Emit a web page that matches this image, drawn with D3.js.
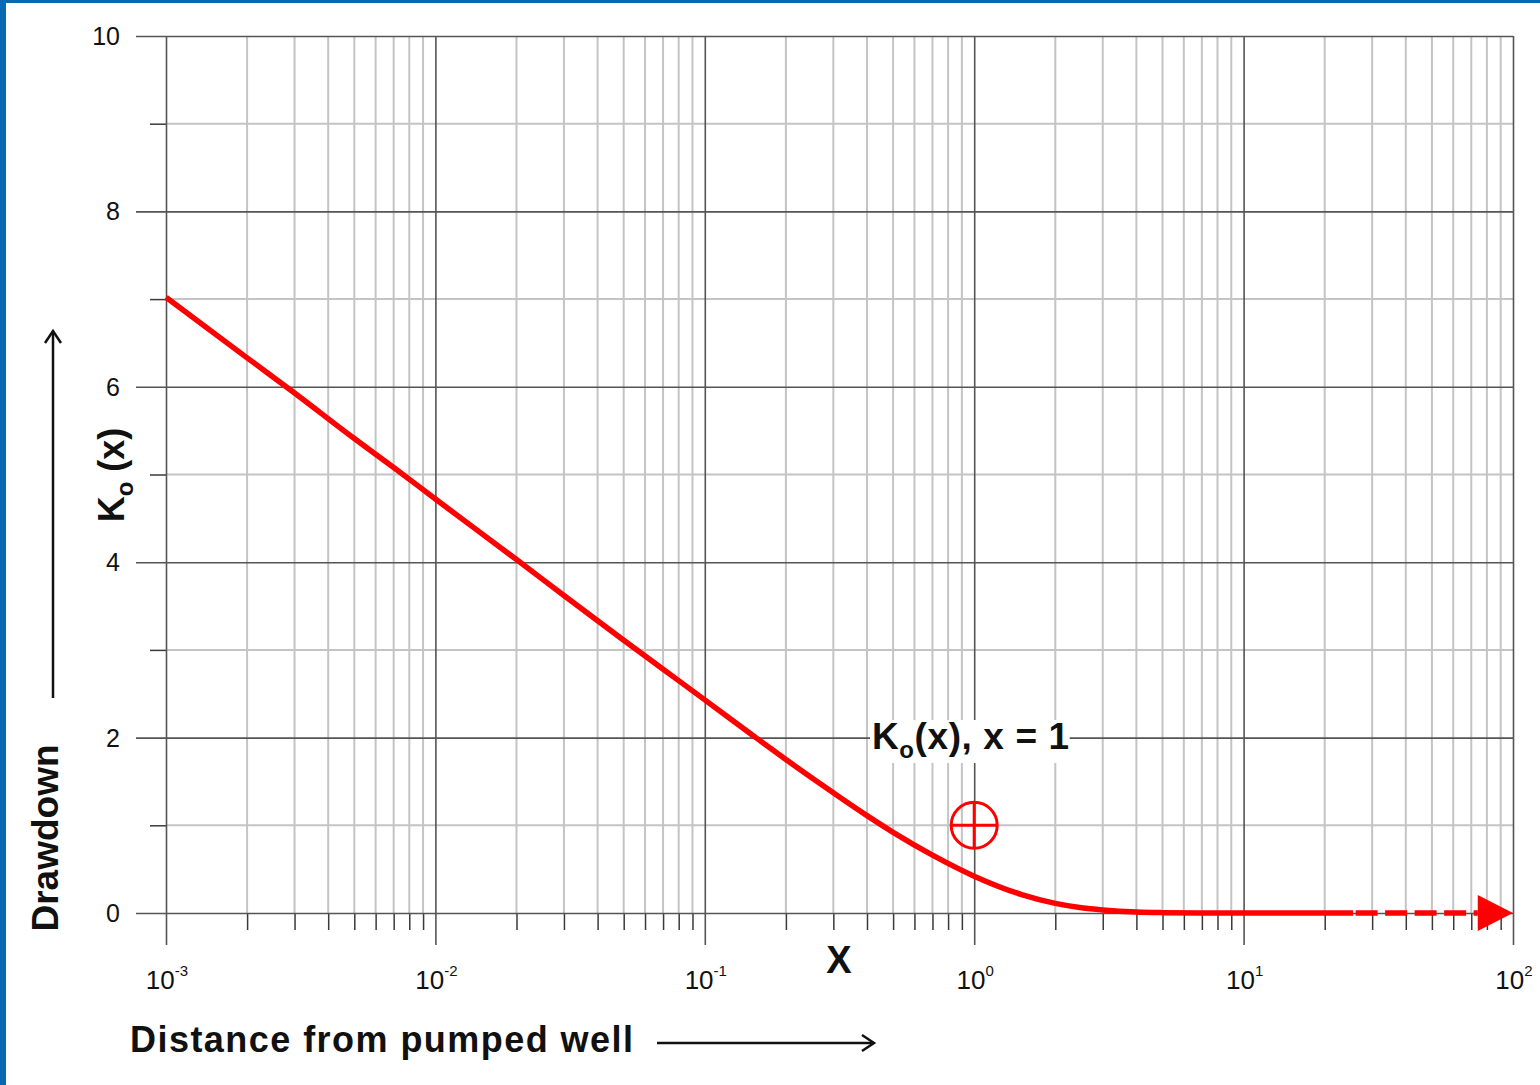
<!DOCTYPE html>
<html>
<head>
<meta charset="utf-8">
<script src="https://cdn.jsdelivr.net/npm/d3@7"></script>
<style>
  html, body { margin: 0; padding: 0; background: #fff; }
  svg { display: block; font-family: 'Liberation Sans', Arial, sans-serif; }
</style>
</head>
<body>
<svg id="chart" width="1540" height="1085"></svg>
<script>
'use strict';

// values
const xVals = [0.001, 0.002, 0.003, 0.005, 0.007, 0.01, 0.02, 0.03, 0.05, 0.07,
               0.1, 0.15, 0.2, 0.3, 0.4, 0.5, 0.7, 1, 1.5, 2, 2.5, 3, 4, 5, 7, 10, 15, 25.5];
const k0Vals = [7.02, 6.33, 5.93, 5.41, 5.08, 4.72, 4.03, 3.62, 3.11, 2.78,
                2.43, 2.03, 1.75, 1.37, 1.11, 0.92, 0.66, 0.42, 0.21, 0.11, 0.06, 0.035, 0.011, 0.004, 0.0004, 0, 0, 0];
const dashX = [25.5, 74];
const arrowX = [74, 100];
const markerPoint = [1, 1];

const xMajor = [0.001, 0.01, 0.1, 1, 10, 100];
const xExponents = ['-3', '-2', '-1', '0', '1', '2'];
const minorSteps = [2, 3, 4, 5, 6, 7, 8, 9];
const yMajor = [0, 2, 4, 6, 8, 10];
const yMinor = [1, 3, 5, 7, 9];

const svg = d3.select('#chart');

// blue frame
svg.append('rect').attr('x', 0).attr('y', 0).attr('width', 1540).attr('height', 3).attr('fill', '#0a68b0');
svg.append('rect').attr('x', 0).attr('y', 0).attr('width', 6).attr('height', 1085).attr('fill', '#0a68b0');

const x = d3.scaleLog().domain([0.001, 100]).range([166, 1513]);
const y = d3.scaleLinear().domain([0, 10]).range([913, 36]);

const xMinorVals = [];
xMajor.slice(0, -1).forEach(function(d) {
    minorSteps.forEach(function(m) { xMinorVals.push(d * m); });
});

const majorColor = '#555555',
      minorColor = '#c4c4c4',
      tickColor = '#3a3a3a';

// minor grid
svg.append('g').selectAll('line').data(xMinorVals).join('line')
   .attr('x1', d => x(d)).attr('x2', d => x(d))
   .attr('y1', y(10)).attr('y2', y(0))
   .attr('stroke', minorColor).attr('stroke-width', 2);
svg.append('g').selectAll('line').data(yMinor).join('line')
   .attr('x1', x(0.001)).attr('x2', x(100))
   .attr('y1', d => y(d)).attr('y2', d => y(d))
   .attr('stroke', minorColor).attr('stroke-width', 2);

// minor ticks outside plot
const xMinorAxis = svg.append('g').attr('transform', 'translate(0,' + y(0) + ')')
   .call(d3.axisBottom(x).tickValues(xMinorVals).tickSize(17).tickFormat(''));
const yMinorAxis = svg.append('g').attr('transform', 'translate(' + x(0.001) + ',0)')
   .call(d3.axisLeft(y).tickValues(yMinor).tickSize(16).tickFormat(''));
[xMinorAxis, yMinorAxis].forEach(function(a) {
    a.select('.domain').remove();
    a.selectAll('line').attr('stroke', tickColor).attr('stroke-width', 1.5);
});

// major grid with axes
const xAxis = svg.append('g').attr('transform', 'translate(0,' + y(10) + ')')
   .call(d3.axisBottom(x).tickValues(xMajor).tickSize(y(0) - y(10) + 32).tickFormat(''));
const yAxis = svg.append('g').attr('transform', 'translate(' + x(100) + ',0)')
   .call(d3.axisLeft(y).tickValues(yMajor).tickSize(x(100) - x(0.001) + 30).tickFormat(''));
[xAxis, yAxis].forEach(function(a) {
    a.select('.domain').remove();
    a.selectAll('line').attr('stroke', majorColor).attr('stroke-width', 1.6);
});

// y tick labels
svg.append('g').selectAll('text').data(yMajor).join('text')
   .attr('x', 120).attr('y', d => y(d) + 9)
   .attr('text-anchor', 'end').attr('font-size', 25).attr('fill', '#111')
   .text(d => d);

// x tick labels 10^n
const xl = svg.append('g').selectAll('text').data(xMajor).join('text')
   .attr('x', d => x(d) + 1).attr('y', 989)
   .attr('text-anchor', 'middle').attr('font-size', 26).attr('fill', '#111');
xl.append('tspan').text('10');
xl.append('tspan').attr('dy', -13).attr('font-size', 15).text((d, i) => xExponents[i]);

// curve
const line = d3.line().x(d => x(d[0])).y(d => y(d[1])).curve(d3.curveMonotoneX);
svg.append('path').datum(d3.zip(xVals, k0Vals))
   .attr('d', line).attr('fill', 'none').attr('stroke', '#ff0000').attr('stroke-width', 5.5);

svg.append('line')
   .attr('x1', x(dashX[0])).attr('x2', x(dashX[1]))
   .attr('y1', y(0)).attr('y2', y(0))
   .attr('stroke', '#ff0000').attr('stroke-width', 5.5)
   .attr('stroke-dasharray', '22,7.5').attr('stroke-dashoffset', 27);

svg.append('path')
   .attr('d', 'M' + x(arrowX[1]) + ',' + y(0) + 'L' + x(arrowX[0]) + ',' + (y(0) - 18) +
              'L' + x(arrowX[0]) + ',' + (y(0) + 18) + 'Z')
   .attr('fill', '#ff0000');

// marker at x = 1
const mk = svg.append('g').attr('stroke', '#ff0000').attr('stroke-width', 3).attr('fill', 'none');
mk.append('circle').attr('cx', x(markerPoint[0])).attr('cy', y(markerPoint[1])).attr('r', 23);
mk.append('line').attr('x1', x(markerPoint[0]) - 23).attr('x2', x(markerPoint[0]) + 23)
  .attr('y1', y(markerPoint[1])).attr('y2', y(markerPoint[1]));
mk.append('line').attr('x1', x(markerPoint[0])).attr('x2', x(markerPoint[0]))
  .attr('y1', y(markerPoint[1]) - 23).attr('y2', y(markerPoint[1]) + 23);

// annotation
const ann = svg.append('g');
const annBg = ann.append('rect').attr('fill', '#fff');
const annText = ann.append('text').attr('x', 872).attr('y', 749)
   .attr('font-size', 37).attr('font-weight', 'bold').attr('fill', '#111')
   .attr('letter-spacing', 0.6);
annText.append('tspan').text('K');
annText.append('tspan').attr('dy', 9).attr('font-size', 24).text('o');
annText.append('tspan').attr('dy', -9).text('(x), x = 1');
const bb = annText.node().getBBox();
annBg.attr('x', bb.x - 2).attr('y', bb.y + 4).attr('width', bb.width + 2).attr('height', bb.height - 4);

// axis titles
svg.append('text').attr('x', 839).attr('y', 973).attr('text-anchor', 'middle')
   .attr('font-size', 38).attr('font-weight', 'bold').attr('fill', '#111').text('X');

svg.append('text').attr('x', 130).attr('y', 1052)
   .attr('font-size', 36).attr('font-weight', 'bold').attr('fill', '#111')
   .attr('textLength', 503).attr('lengthAdjust', 'spacing')
   .text('Distance from pumped well');

const yt = svg.append('text').attr('transform', 'translate(124,475) rotate(-90)')
   .attr('text-anchor', 'middle').attr('font-size', 36).attr('font-weight', 'bold').attr('fill', '#111');
yt.append('tspan').text('K');
yt.append('tspan').attr('dy', 9).attr('font-size', 24).text('o');
yt.append('tspan').attr('dy', -9).text(' (x)');

svg.append('text').attr('transform', 'translate(58,838) rotate(-90)')
   .attr('text-anchor', 'middle').attr('font-size', 37).attr('font-weight', 'bold').attr('fill', '#111')
   .text('Drawdown');

// arrows
const arrows = svg.append('g').attr('stroke', '#111').attr('stroke-width', 2.5).attr('fill', 'none');
arrows.append('line').attr('x1', 657).attr('x2', 874).attr('y1', 1043).attr('y2', 1043);
arrows.append('path').attr('d', 'M862,1035L874,1043L862,1051');
arrows.append('line').attr('x1', 53).attr('x2', 53).attr('y1', 698).attr('y2', 331);
arrows.append('path').attr('d', 'M45,343L53,331L61,343');
</script>
</body>
</html>
